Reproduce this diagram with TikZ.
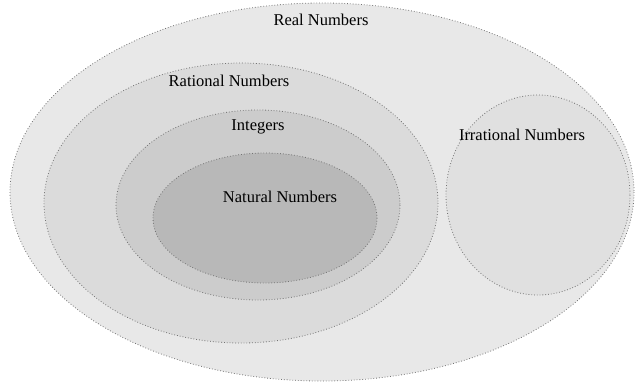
\documentclass[tikz,border=0pt]{standalone}
\usepackage{fontspec}
\setmainfont{Liberation Serif}
\definecolor{realfill}{gray}{0.91}
\definecolor{ratfill}{gray}{0.86}
\definecolor{irrfill}{gray}{0.88}
\definecolor{intfill}{gray}{0.80}
\definecolor{natfill}{gray}{0.72}
\tikzset{
  setbox/.style={draw=black!55, dotted, line width=0.8pt},
  setlabel/.style={font=\fontsize{16.5}{18}\selectfont, text=black, inner sep=0pt}
}
\begin{document}
\begin{tikzpicture}[x=1pt,y=-1pt]
\useasboundingbox (0,0) rectangle (639,383);
\fill[white] (0,0) rectangle (639,383);
\filldraw[setbox, fill=realfill] (322,192) ellipse [x radius=312, y radius=189];
\filldraw[setbox, fill=ratfill] (241,203) ellipse [x radius=197, y radius=140];
\filldraw[setbox, fill=irrfill] (538,195) ellipse [x radius=92, y radius=100];
\filldraw[setbox, fill=intfill] (258,205) ellipse [x radius=142, y radius=95];
\filldraw[setbox, fill=natfill] (265,218) ellipse [x radius=112, y radius=65];
\node[setlabel] (real) at (321,20) {Real Numbers};
\node[setlabel] (rational) at (229,81) {Rational Numbers};
\node[setlabel] (integers) at (258,127) {Integers};
\node[setlabel] (irrational) at (522,135) {Irrational Numbers};
\node[setlabel] (natural) at (280,197) {Natural Numbers};
\end{tikzpicture}
\end{document}
